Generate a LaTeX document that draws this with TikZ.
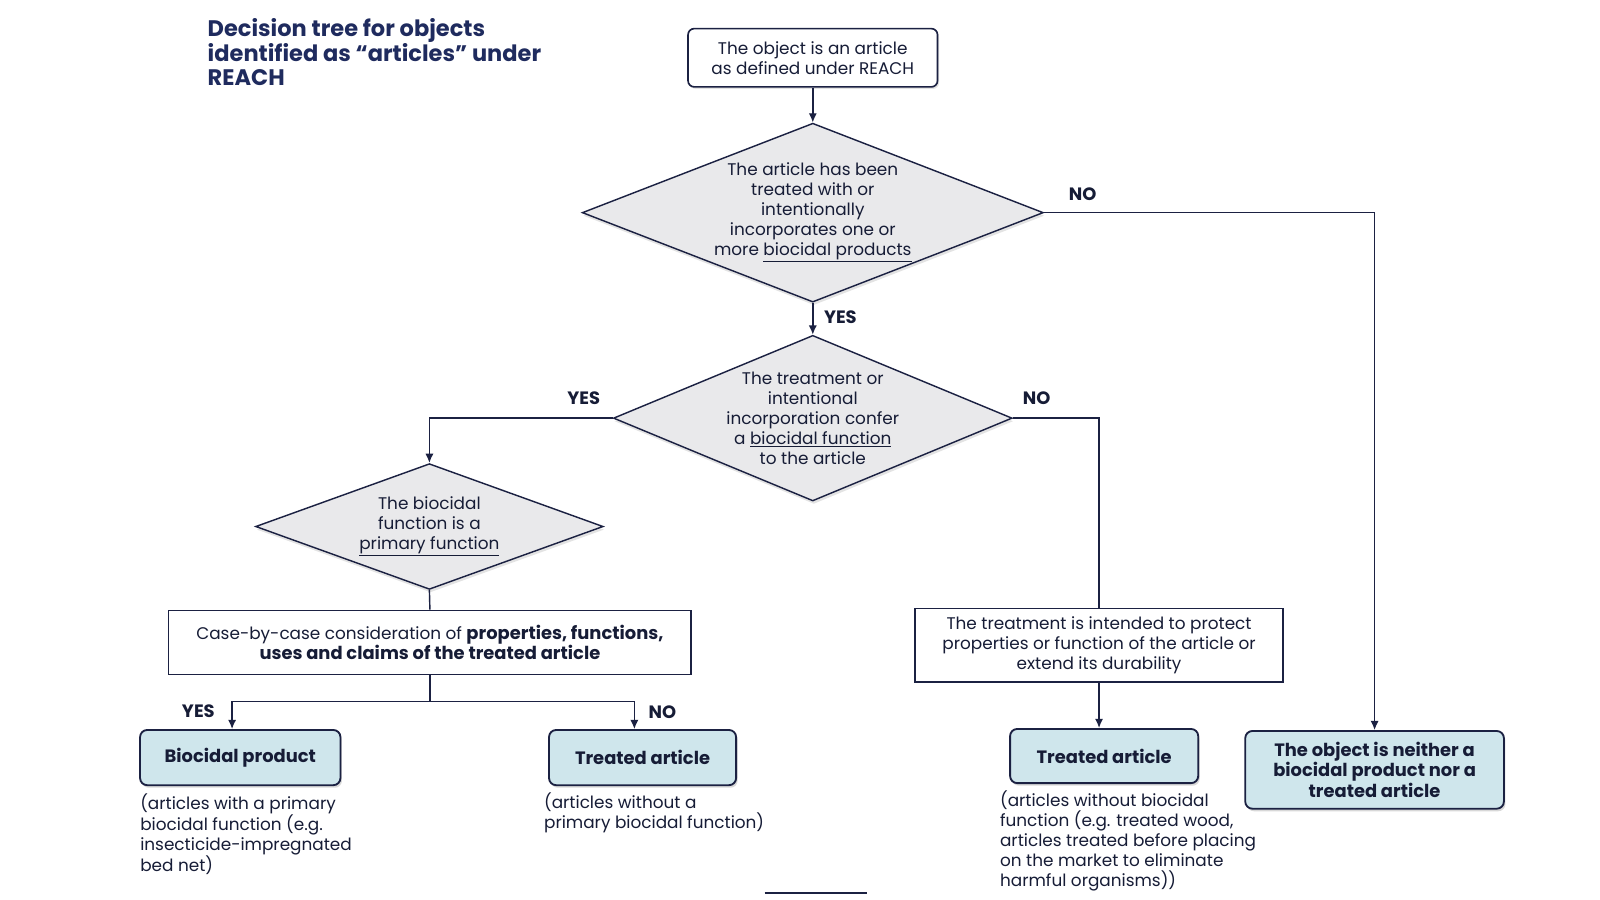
\documentclass[tikz,border=0pt]{standalone}
\usepackage{fontspec}
\setmainfont{Poppins}
\usetikzlibrary{shapes.geometric,arrows.meta,shadows,calc}
\definecolor{navy}{HTML}{1B2142}
\definecolor{txt}{HTML}{161C36}
\definecolor{titlec}{HTML}{1F2B5E}
\definecolor{dfill}{HTML}{E9E9EB}
\definecolor{rfill}{HTML}{CFE6EC}
\newcommand{\bigb}[1]{{\fontsize{17.5}{19.5}\selectfont\bfseries #1}}
\tikzset{
  every node/.style={text=txt, font=\fontsize{16.5}{19.5}\selectfont},
  conn/.style={draw=navy, line width=1.4pt},
  arr/.style={conn, -{Latex[length=9pt,width=8pt]}},
  decision/.style={shape=diamond, draw=navy, line width=1.4pt, fill=dfill, inner sep=0pt, align=center,
    drop shadow={opacity=0.22, shadow xshift=1pt, shadow yshift=-3pt}},
  startbox/.style={rectangle, rounded corners=6pt, draw=navy, line width=1.6pt, fill=white, align=center,
    minimum width=244pt, minimum height=57pt,
    drop shadow={opacity=0.22, shadow xshift=1.5pt, shadow yshift=-2pt}},
  plainbox/.style={rectangle, draw=navy, line width=1.4pt, fill=white, align=center},
  resultbox/.style={rectangle, rounded corners=7pt, draw=navy, line width=1.8pt, fill=rfill, align=center,
    font=\fontsize{17.5}{19.8}\selectfont\bfseries,
    drop shadow={opacity=0.3, shadow xshift=1.5pt, shadow yshift=-2.5pt}},
  lbl/.style={font=\fontsize{17.5}{19.5}\selectfont\bfseries, inner sep=0pt},
  caption/.style={align=left, anchor=north west, inner sep=0pt},
}
\begin{document}
\begin{tikzpicture}[x=1pt,y=-1pt]
\path[use as bounding box, fill=white] (0,0) rectangle (1565,880);

% title
\node[anchor=north west, align=left, inner sep=0pt, text=titlec,
  font=\fontsize{22}{24}\selectfont\bfseries] (title) at (203,18)
  {Decision tree for objects\\identified as ``articles'' under\\REACH};

% nodes
\node[startbox] (start) at (795,56.5) {The object is an article\\as defined under REACH};

\node[decision, aspect=2.58, minimum width=451pt, minimum height=175pt] (d1) at (795,208)
  {The article has been\\treated with or\\intentionally\\incorporates one or\\more \underline{biocidal products}};

\node[decision, aspect=2.4, minimum width=390pt, minimum height=162pt] (d2) at (795,409)
  {The treatment or\\intentional\\incorporation confer\\a \underline{biocidal function}\\to the article};

\node[decision, aspect=2.76, minimum width=340pt, minimum height=123pt] (d3) at (420,515)
  {The biocidal\\function is a\\\underline{primary function}};

\node[plainbox, minimum width=511pt, minimum height=63pt] (case) at (420.5,628.5)
  {Case-by-case consideration of \bigb{properties, functions,}\\\bigb{uses and claims of the treated article}};

\node[plainbox, minimum width=360pt, minimum height=72pt] (protect) at (1075,631)
  {The treatment is intended to protect\\properties or function of the article or\\extend its durability};

\node[resultbox, minimum width=196pt, minimum height=54pt] (bp) at (235,741) {Biocidal product};
\node[resultbox, minimum width=183pt, minimum height=54pt] (ta1) at (628.5,741) {Treated article};
\node[resultbox, minimum width=184pt, minimum height=53pt] (ta2) at (1080,739.5) {Treated article};
\node[resultbox, minimum width=253pt, minimum height=76pt] (neither) at (1344.5,753)
  {The object is neither a\\biocidal product nor a\\treated article};

% captions
\node[caption] (cap1) at (137,776)
  {(articles with a primary\\biocidal function (e.g.\\insecticide-impregnated\\bed net)};
\node[caption] (cap2) at (532,775)
  {(articles without a\\primary biocidal function)};
\node[caption] (cap3) at (978,773)
  {(articles without biocidal\\function (e.g. treated wood,\\articles treated before placing\\on the market to eliminate\\harmful organisms))};

% connectors
\draw[arr] (start) -- (d1);
\draw[arr] (d1.east) -| (neither.north);
\draw[arr] (d1.south) -- (d2.north);
\draw[arr] (d2.west) -| (d3.north);
\draw[conn] (d2.east) -| (protect.north);
\draw[conn] (d3.south) -- (case.north);
\coordinate (split) at (420.5,686);
\draw[conn] (case.south) -- (split);
\draw[arr] (split) -| ([xshift=-8pt]bp.north);
\draw[arr] (split) -| ([xshift=-8pt]ta1.north);
\draw[arr] (protect.south) -- ([xshift=-5pt]ta2.north);

% labels
\node[lbl] (no1) at (1059,190) {NO};
\node[lbl] (yes1) at (822,310) {YES};
\node[lbl] (yes2) at (571,389) {YES};
\node[lbl] (no2) at (1014,389) {NO};
\node[lbl] (yes3) at (194,696) {YES};
\node[lbl] (no3) at (648,697) {NO};

% bottom rule
\coordinate (r1) at (748,873);
\coordinate (r2) at (848,873);
\draw[navy, line width=2pt] (r1) -- (r2);
\end{tikzpicture}
\end{document}
